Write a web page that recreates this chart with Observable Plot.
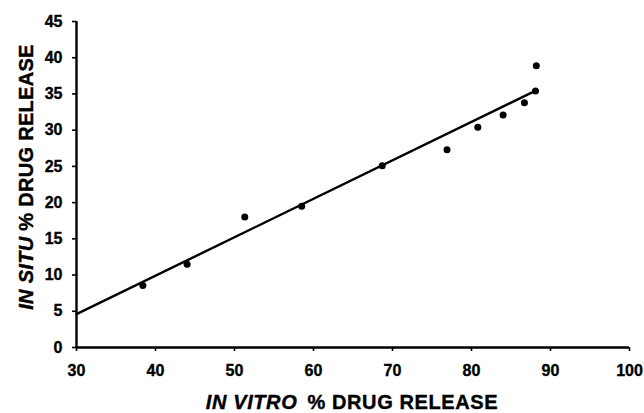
<!DOCTYPE html>
<html>
<head>
<meta charset="utf-8">
<script src="https://cdn.jsdelivr.net/npm/d3@7"></script>
<script src="https://cdn.jsdelivr.net/npm/@observablehq/plot@0.6"></script>
<style>
  html, body { margin: 0; padding: 0; background: #fff; }
  #chart svg { display: block; }
  #chart svg g[aria-label$="tick label"] text { stroke: #000; stroke-width: 0.35px; }
</style>
</head>
<body>
<div id="chart"></div>
<script>
// In vitro (%) vs in situ (%) drug release
const inVitro = [38.4, 44.0, 51.3, 58.5, 68.7, 76.9, 80.8, 84.0, 86.7, 88.1, 88.2];
const inSitu  = [8.55, 11.5, 18.0, 19.5, 25.1, 27.3, 30.4, 32.1, 33.8, 35.4, 38.9];
// fitted line end points
const fitX = [30, 88.2];
const fitY = [4.6, 35.5];
// tick labels
const xTicks = [30, 40, 50, 60, 70, 80, 90, 100];
const yTicks = [0, 5, 10, 15, 20, 25, 30, 35, 40, 45];

const points = inVitro.map((x, i) => ({x, y: inSitu[i]}));
const fit = fitX.map((x, i) => ({x, y: fitY[i]}));

const font = "'Liberation Sans', Arial, sans-serif";

const chart = Plot.plot({
  width: 644,
  height: 413,
  marginLeft: 76,
  marginRight: 15,
  marginTop: 21,
  marginBottom: 66,
  style: {fontFamily: font, fontSize: "16px", fontWeight: "bold", color: "#000", background: "#fff"},
  x: {domain: [30, 100]},
  y: {domain: [0, 45]},
  marks: [
    Plot.axisX({ticks: xTicks, tickSize: 4, tickPadding: 13, strokeWidth: 1.6, label: null, fontSize: 16, fontWeight: "bold"}),
    Plot.axisY({ticks: yTicks, tickSize: 4, tickPadding: 10, strokeWidth: 1.6, label: null, fontSize: 16, fontWeight: "bold"}),
    Plot.ruleX([30], {strokeWidth: 2.4, stroke: "#000"}),
    Plot.ruleY([0], {strokeWidth: 2.4, stroke: "#000"}),
    Plot.line(fit, {x: "x", y: "y", stroke: "#000", strokeWidth: 2.4}),
    Plot.dot(points, {x: "x", y: "y", r: 3.5, fill: "#000", stroke: "none"})
  ]
});

const svg = d3.select(chart);
const xt = svg.append("text")
  .attr("x", 352).attr("y", 409)
  .attr("text-anchor", "middle")
  .attr("font-family", font).attr("font-weight", "bold").attr("font-size", 20)
  .attr("letter-spacing", 0.6)
  .attr("fill", "#000").attr("stroke", "#000").attr("stroke-width", 0.4);
xt.append("tspan").attr("font-style", "italic").text("IN VITRO");
xt.append("tspan").attr("dx", 4).text(" % DRUG RELEASE");

const yt = svg.append("text")
  .attr("transform", "translate(33,177) rotate(-90)")
  .attr("text-anchor", "middle")
  .attr("font-family", font).attr("font-weight", "bold").attr("font-size", 20)
  .attr("letter-spacing", 0.3)
  .attr("fill", "#000").attr("stroke", "#000").attr("stroke-width", 0.4);
yt.append("tspan").attr("font-style", "italic").text("IN SITU");
yt.append("tspan").text(" % DRUG RELEASE");

document.getElementById("chart").appendChild(chart);
</script>
</body>
</html>
